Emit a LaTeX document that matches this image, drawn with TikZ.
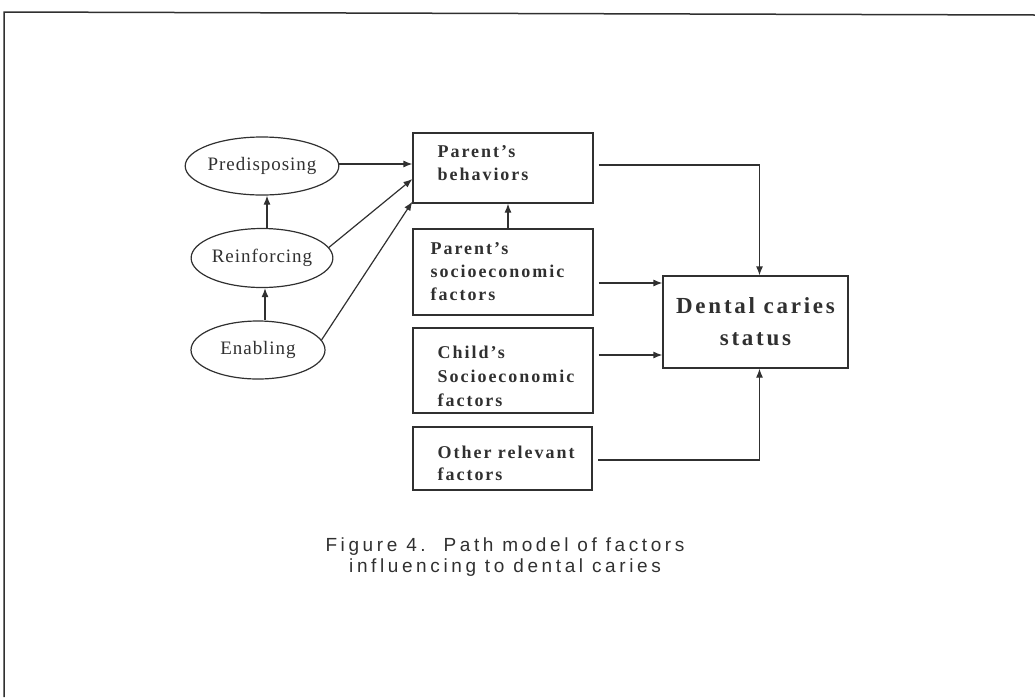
\documentclass[tikz,border=0pt]{standalone}
\usepackage{fontspec}
\setmainfont{Liberation Serif}
\newfontfamily\ellfont{Liberation Serif}[LetterSpace=5]
\newfontfamily\boxfont{Liberation Serif}[LetterSpace=11]
\newfontfamily\dcfont{Liberation Serif}[LetterSpace=12]
\newfontfamily\capfont{Liberation Sans}[LetterSpace=19]
\usetikzlibrary{shapes.geometric,arrows.meta,calc}
\definecolor{ink}{HTML}{303030}
\begin{document}
\begin{tikzpicture}[x=1pt,y=-1pt,
  line width=1.2pt, draw=ink,
  ell/.style={ellipse, draw=ink, line width=1.2pt, inner sep=0pt, font=\ellfont\fontsize{19}{22}\selectfont, text=ink},
  fbox/.style={rectangle, draw=ink, line width=1.2pt, inner sep=0pt},
  btxt/.style={anchor=base west, align=left, inner sep=0pt, text=ink, font=\boxfont\bfseries\fontsize{18}{23}\selectfont},
  arr/.style={draw=ink, line width=1.2pt, -{Latex[length=9pt,width=7pt]}}
]
\useasboundingbox (0,0) rectangle (1035,697);
% frame
\draw[ink, line width=1.5pt] (4,697) -- (4,12) -- (1035,15);

% ellipses
\node[ell, minimum width=142pt, minimum height=58pt] (pre) at (262,166) {Predisposing};
\node[ell, minimum width=141pt, minimum height=59pt] (rei) at (262,258) {Reinforcing};
\node[ell, minimum width=134pt, minimum height=58pt] (ena) at (258,350) {Enabling};

% boxes
\node[fbox, minimum width=180pt, minimum height=70pt] (pb) at (503,168) {};
\node[fbox, minimum width=180pt, minimum height=86pt] (ps) at (503,272) {};
\node[fbox, minimum width=180pt, minimum height=85pt] (cs) at (503,370.5) {};
\node[fbox, minimum width=179pt, minimum height=63pt] (orf) at (502.5,458.5) {};
\node[fbox, minimum width=185pt, minimum height=92pt] (dc) at (755.5,322) {};

% box texts (base anchor = last line)
\node[btxt] (pbt) at (437,180) {Parent’s\\behaviors};
\node[btxt] (pst) at (430,300) {Parent’s\\socioeconomic\\factors};
\node[btxt, font=\boxfont\bfseries\fontsize{18}{24}\selectfont] (cst) at (437,406) {Child’s\\Socioeconomic\\factors};
\node[btxt, font=\boxfont\bfseries\fontsize{18}{22}\selectfont] (ort) at (437,480) {Other relevant\\factors};
\node[align=center, inner sep=0pt, text=ink, font=\dcfont\bfseries\fontsize{23}{32}\selectfont] (dct) at (dc) {Dental caries\\status};

% caption
\node[align=center, inner sep=0pt, text=ink, font=\capfont\fontsize{19}{21}\selectfont] (cap) at (505,557) {Figure 4.\ \ Path model of factors\\influencing to dental caries};

% ellipse connectors
\coordinate (e1) at ($(ena.north)+(7,0)$);
\coordinate (r1) at ($(rei.south)+(5,0)$);
\draw[arr] (e1) -- (e1 |- r1);
\coordinate (r2) at ($(rei.north)+(5,0)$);
\coordinate (p2) at ($(pre.south)+(4,0)$);
\draw[arr] (r2) -- (r2 |- p2);

\coordinate (t1) at ($(pb.west)+(0,-4)$);
\coordinate (t2) at ($(pb.west)+(0,11)$);
\coordinate (t3) at ($(pb.south west)+(0,-2)$);
\draw[arr] (pre.east |- t1) -- (t1);
\draw[arr] (rei.9) -- (t2);
\draw[arr] (ena.9) -- (t3);

% parent socio -> behaviors
\coordinate (s1) at ($(ps.north)+(5,0)$);
\draw[arr] (s1) -- (s1 |- pb.south);

% to dental caries
\coordinate (a1) at ($(pb.east)+(5,-3)$);
\coordinate (d1) at ($(dc.north)+(4,0)$);
\draw[arr] (a1) -| (d1);
\coordinate (a2) at ($(ps.east)+(5,11)$);
\draw[arr] (a2) -- (a2 -| dc.west);
\coordinate (a3) at ($(cs.east)+(5,-15.5)$);
\draw[arr] (a3) -- (a3 -| dc.west);
\coordinate (a4) at ($(orf.east)+(5.5,1.5)$);
\coordinate (d4) at ($(dc.south)+(4,0)$);
\draw[arr] (a4) -| (d4);
\end{tikzpicture}
\end{document}
